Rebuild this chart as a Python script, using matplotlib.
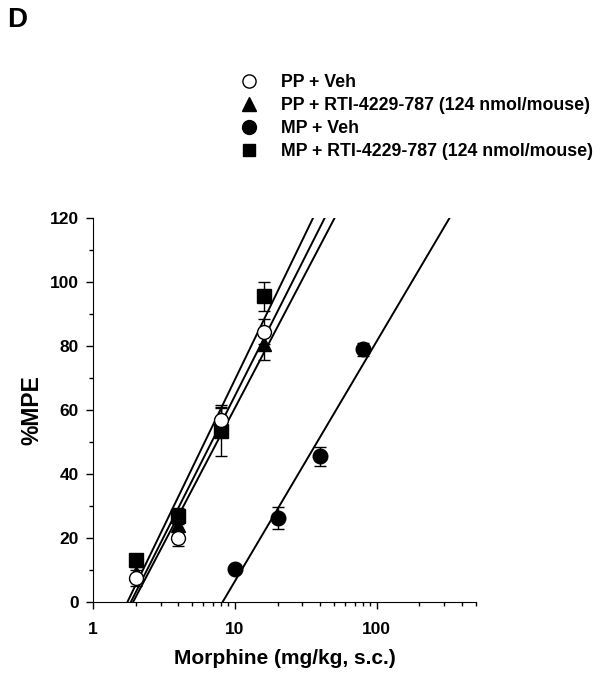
import numpy as np
import matplotlib.pyplot as plt
from matplotlib.lines import Line2D
from matplotlib.ticker import FixedLocator, FixedFormatter, LogLocator, NullFormatter, MultipleLocator

plt.rcParams['font.family'] = ['Liberation Sans', 'DejaVu Sans']
plt.rcParams['font.weight'] = 'bold'

# doses (mg/kg)
pp_dose = [2, 4, 8, 16]
mp_dose = [10, 20, 40, 80]

# %MPE means and SEM
pp_veh = [7.5, 20, 57, 84.5]
pp_veh_err = [2.5, 2.5, 4, 4]
pp_rti = [9, 24, 56, 80.5]
pp_rti_err = [2, 3, 4.5, 5]
mp_veh = [10.3, 26.2, 45.6, 79]
mp_veh_err = [1, 3.5, 3, 2]
mp_rti = [13, 27, 53.5, 95.5]
mp_rti_err = [1.5, 2.5, 8, 4.5]

# regression lines: dose where line hits 0 % and 120 %
line_x0 = [1.75, 1.85, 1.92, 8.2]
line_x120 = [35.6, 43, 50.5, 326]

labels = ['PP + Veh', 'PP + RTI-4229-787 (124 nmol/mouse)',
          'MP + Veh', 'MP + RTI-4229-787 (124 nmol/mouse)']

fig = plt.figure(figsize=(6.07, 6.75), dpi=100)
ax = fig.add_axes([0.153, 0.108, 0.631, 0.569])

# fitted lines
for x0, x1 in zip(line_x0, line_x120):
    ax.plot([x0, x1], [0, 120], color='black', lw=1.4, zorder=2)

ekw = dict(ecolor='black', elinewidth=1.0, capsize=4, capthick=1.0, linestyle='none', zorder=3)
ax.errorbar(pp_dose, mp_rti, yerr=mp_rti_err, marker='s', ms=9.5, mfc='black', mec='black', **ekw)
ax.errorbar(pp_dose, pp_rti, yerr=pp_rti_err, marker='^', ms=10, mfc='black', mec='black', **ekw)
ax.errorbar(pp_dose, pp_veh, yerr=pp_veh_err, marker='o', ms=10, mfc='white', mec='black', mew=1.0, **ekw)
ax.errorbar(mp_dose, mp_veh, yerr=mp_veh_err, marker='o', ms=10.5, mfc='black', mec='black', **ekw)

ax.set_xscale('log')
ax.set_xlim(1, 500)
ax.set_ylim(0, 120)
ax.xaxis.set_major_locator(FixedLocator([1, 10, 100]))
ax.xaxis.set_major_formatter(FixedFormatter(['1', '10', '100']))
ax.xaxis.set_minor_locator(LogLocator(base=10, subs=np.arange(2, 10)))
ax.xaxis.set_minor_formatter(NullFormatter())
ax.yaxis.set_major_locator(MultipleLocator(20))
ax.yaxis.set_minor_locator(MultipleLocator(10))

ax.spines['top'].set_visible(False)
ax.spines['right'].set_visible(False)
ax.tick_params(which='major', direction='out', length=5, width=1, labelsize=12.5)
ax.tick_params(axis='x', which='major', pad=9)
ax.tick_params(axis='y', which='major', pad=5)
ax.tick_params(which='minor', direction='out', length=3, width=1)
for t in ax.get_xticklabels() + ax.get_yticklabels():
    t.set_fontweight('bold')

ax.set_xlabel('Morphine (mg/kg, s.c.)', fontsize=15, fontweight='bold', labelpad=9)
ax.set_ylabel('%MPE', fontsize=16.5, fontweight='bold', labelpad=5)

handles = [
    Line2D([], [], marker='o', ls='none', ms=9.5, mfc='white', mec='black'),
    Line2D([], [], marker='^', ls='none', ms=9.5, mfc='black', mec='black'),
    Line2D([], [], marker='o', ls='none', ms=10, mfc='black', mec='black'),
    Line2D([], [], marker='s', ls='none', ms=9, mfc='black', mec='black'),
]
fig.legend(handles, labels, loc='upper left', bbox_to_anchor=(0.381, 0.903),
           frameon=False, handlelength=1.0, handletextpad=1.3, borderpad=0,
           labelspacing=0.33, prop={'size': 12.8, 'weight': 'bold'})

fig.text(0.011, 0.99, 'D', fontsize=20, fontweight='bold', va='top', ha='left')

fig.savefig('out.png', dpi=100)
